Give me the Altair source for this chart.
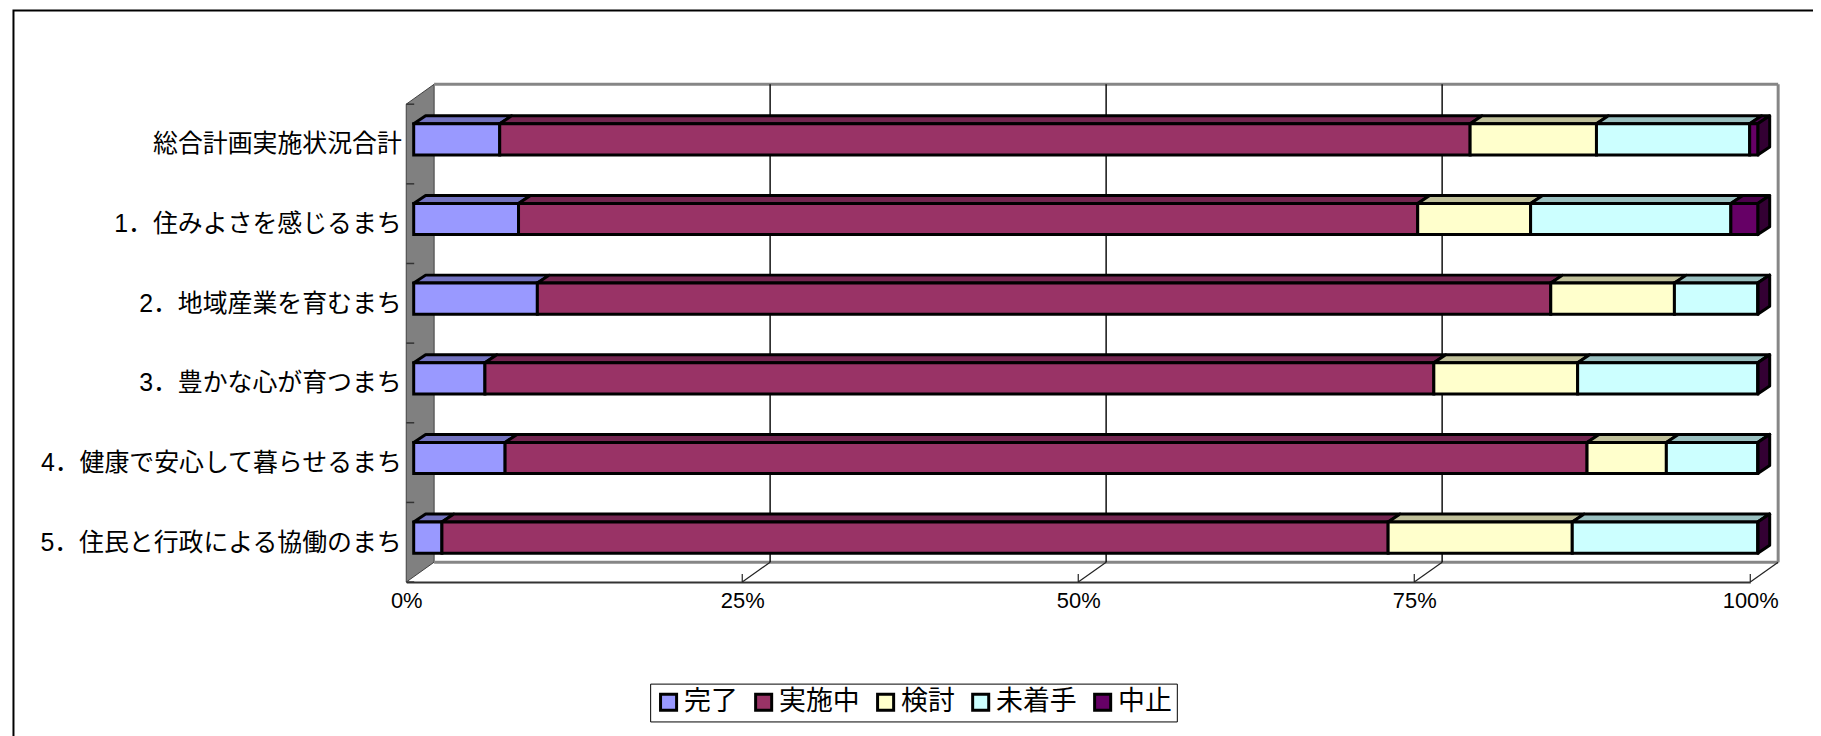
import json
import altair as alt
import pandas as pd

categories = ["総合計画実施状況合計", "1．住みよさを感じるまち", "2．地域産業を育むまち",
              "3．豊かな心が育つまち", "4．健康で安心して暮らせるまち", "5．住民と行政による協働のまち"]
series = ["完了", "実施中", "検討", "未着手", "中止"]
colors = ["#9999FF", "#993366", "#FFFFCC", "#CCFFFF", "#660066"]
top_colors = ["#7373BF", "#732650", "#BFBF99", "#99BFBF", "#4C004C"]
side_color = "#330033"
done = [6.4, 7.8, 9.2, 5.3, 6.8, 2.1]
doing = [72.2, 66.9, 75.4, 70.6, 80.5, 70.4]
review = [9.4, 8.4, 9.2, 10.7, 5.9, 13.7]
unstarted = [11.4, 14.9, 6.2, 13.4, 6.8, 13.8]
stopped = [0.6, 2.0, 0.0, 0.0, 0.0, 0.0]
ticks_x = [0, 25, 50, 75, 100]

FONT = "Liberation Sans, Noto Sans CJK JP"
W, H = 1350, 480            # plot area px (front plane of the 3D box)
PX = 100 / W                # one pixel in x-data units
PY = 6 / H                  # one pixel in y-data units
WALL_DX, WALL_DY = 28 * PX, 20 * PY
BAR_X0 = 7.5 * PX
BAR_TOP, BAR_BOT = 19.7 * PY, 51 * PY
BAR_DX, BAR_DY = 12 * PX, 8 * PY

rows = []
for r, cat in enumerate(categories):
    start = 0.0
    vals = [done[r], doing[r], review[r], unstarted[r], stopped[r]]
    scale = 100.0 / sum(vals)
    for s, name in enumerate(series):
        end = start + vals[s] * scale
        rows.append(dict(r=r, s=name, a=start + BAR_X0, b=end + BAR_X0,
                         top=r + BAR_TOP, bot=r + BAR_BOT, color=colors[s], tcolor=top_colors[s]))
        start = end
bars = pd.DataFrame(rows)

XS = alt.Scale(domain=[0, 100])
YS = alt.Scale(domain=[6, 0])
x_q = lambda f: alt.X(f, type="quantitative", scale=XS, axis=None)
y_q = lambda f: alt.Y(f, type="quantitative", scale=YS, axis=None)

tops = []
for b in rows:
    k = f"{b['r']}-{b['s']}"
    tops.append(dict(k=k, y=b["top"], a=b["a"], b=b["b"], c=b["tcolor"]))
    tops.append(dict(k=k, y=b["top"] - BAR_DY, a=b["a"] + BAR_DX, b=b["b"] + BAR_DX, c=b["tcolor"]))
top_layer = alt.Chart(pd.DataFrame(tops)).mark_area(
    orient="horizontal", stroke="black", strokeWidth=3, strokeJoin="round").encode(
    x=x_q("a:Q"), x2="b:Q", y=y_q("y:Q"), detail="k:N",
    fill=alt.Fill("c:N", scale=None))

sides = []
for r in range(len(categories)):
    right = 100 + BAR_X0
    sides.append(dict(k=r, x=right, t=r + BAR_TOP, u=r + BAR_BOT))
    sides.append(dict(k=r, x=right + BAR_DX, t=r + BAR_TOP - BAR_DY, u=r + BAR_BOT - BAR_DY))
side_layer = alt.Chart(pd.DataFrame(sides)).mark_area(
    orient="vertical", stroke="black", strokeWidth=3, strokeJoin="round", fill=side_color).encode(
    x=x_q("x:Q"), y=y_q("t:Q"), y2="u:Q", detail="k:N")

front_layer = alt.Chart(bars).mark_rect(stroke="black", strokeWidth=3).encode(
    x=alt.X("a:Q", scale=XS,
            axis=alt.Axis(orient="bottom", values=ticks_x, labelExpr="datum.value + '%'", title=None, grid=False,
                          ticks=False, domainColor="#333333", domainWidth=2, labelPadding=9,
                          labelFont="Liberation Sans", labelFontSize=22,
                          labelColor="black", labelFlush=False, labelOverlap=False)),
    x2="b:Q",
    y=alt.Y("top:Q", scale=YS,
            axis=alt.Axis(orient="left", values=[i + 0.5 for i in range(6)],
                          labelExpr=json.dumps(categories, ensure_ascii=False) + "[floor(datum.value)]",
                          title=None, grid=False, ticks=False, domain=False, labelPadding=5,
                          labelFont=FONT, labelFontSize=25, labelColor="black", labelOverlap=False,
                          labelBound=False, labelLimit=1000)),
    y2="bot:Q",
    fill=alt.Fill("s:N", scale=alt.Scale(domain=series, range=colors),
                  legend=alt.Legend(orient="none", legendX=245, legendY=582, direction="horizontal",
                                    columns=5, title=None, symbolType="square", symbolSize=260,
                                    symbolStrokeColor="black", symbolStrokeWidth=3,
                                    labelFont=FONT, labelFontSize=27, labelColor="black",
                                    labelOffset=2, columnPadding=11.5, padding=5, labelLimit=400,
                                    fillColor="white", strokeColor="black")))

wall = pd.DataFrame([dict(x=0, t=0, u=6), dict(x=WALL_DX, t=-WALL_DY, u=6 - WALL_DY)])
wall_layer = alt.Chart(wall).mark_area(orient="vertical", fill="#808080", stroke="#404040", strokeWidth=1).encode(
    x=x_q("x:Q"), y=y_q("t:Q"), y2="u:Q")

def rule(df, color, width):
    return alt.Chart(pd.DataFrame(df)).mark_line(color=color, strokeWidth=width, clip=False).encode(
        x=x_q("x:Q"), y=y_q("y:Q"), detail="k:N", order="o:Q")

def seq(k, pts):
    return [dict(k=k, o=i, x=x, y=y) for i, (x, y) in enumerate(pts)]

bx1 = 100 + WALL_DX
back = (seq(0, [(WALL_DX, -WALL_DY), (bx1, -WALL_DY)])
        + seq(1, [(bx1, -WALL_DY), (bx1, 6 - WALL_DY)])
        + seq(2, [(WALL_DX, 6 - WALL_DY), (bx1, 6 - WALL_DY)]))
back_layer = rule(back, "#868686", 3)

grid = []
for v in ticks_x[1:-1]:
    grid += seq(v, [(v + WALL_DX, -WALL_DY), (v + WALL_DX, 6 - WALL_DY)])
grid_layer = rule(grid, "#111111", 1.5)

floor = []
for v in ticks_x[1:]:
    floor += seq(v, [(v + WALL_DX, 6 - WALL_DY), (v, 6)])
    floor += seq(f"t{v}", [(v, 6), (v, 6 - 8 * PY)])
floor_layer = rule(floor, "#222222", 1.2)

wall_ticks = []
for i in range(7):
    wall_ticks += seq(i, [(0, i), (8 * PX, i)])
tick_layer = rule(wall_ticks, "#333333", 1.5)

frame_x = (13.5 - 408) * PX
frame_y = (9 - 103) * PY
frame = seq(0, [(frame_x, 6 + 160 * PY), (frame_x, frame_y), ((1821 - 408) * PX, frame_y)])
frame_layer = rule(frame, "black", 2)

chart = alt.layer(frame_layer, wall_layer, back_layer, grid_layer, floor_layer, tick_layer,
                  top_layer, side_layer, front_layer).resolve_scale(fill="independent").resolve_axis(
    x="independent", y="independent").properties(
    width=W, height=H,
    padding={"left": 400, "top": 95, "right": 63, "bottom": 153},
    autosize=alt.AutoSizeParams(type="none"),
    background="white",
).configure_view(stroke=None)

chart.save("out.html", embed_options={"renderer": "svg", "actions": False})
